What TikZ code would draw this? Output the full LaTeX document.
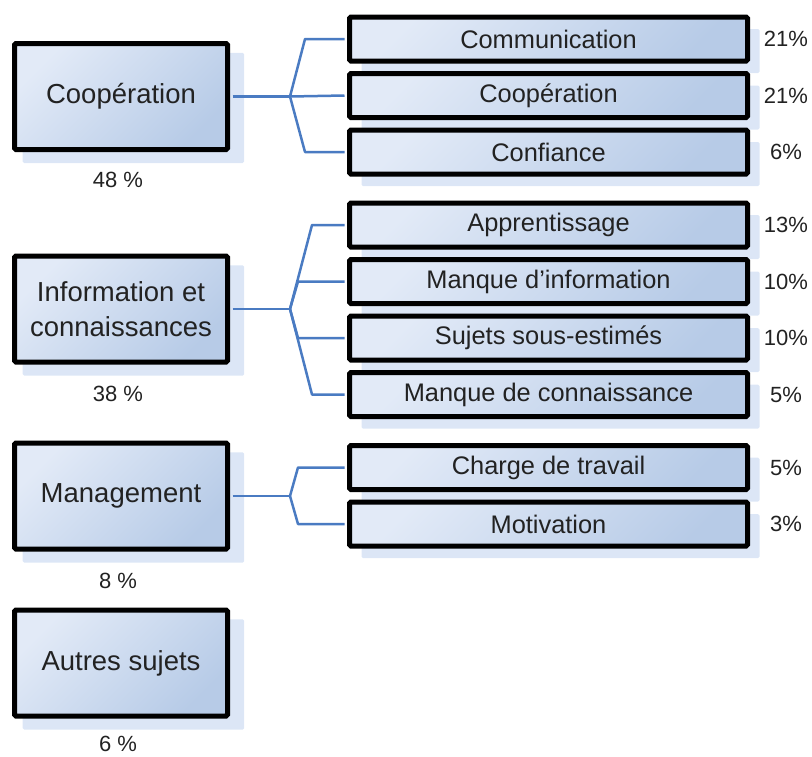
\documentclass[tikz,border=0pt]{standalone}
\usepackage{fontspec}
\setmainfont{Liberation Sans}
\usetikzlibrary{shadows}
\definecolor{boxlight}{HTML}{E2EAF7}
\definecolor{boxdark}{HTML}{B7CBE7}
\definecolor{shadowblue}{HTML}{DCE6F6}
\definecolor{linkblue}{HTML}{4A7BC2}
\definecolor{txt}{HTML}{222222}
\tikzset{
  base/.style={draw=black, line width=5pt, rounded corners=1.5pt,
    top color=boxlight, bottom color=boxdark, shading angle=45,
    text=txt, inner sep=0pt, align=center},
  bigbox/.style={base, minimum width=213pt, minimum height=106pt,
    font=\fontsize{27.5}{35}\selectfont,
    general shadow={fill=shadowblue, shadow xshift=12pt, shadow yshift=-11pt, shadow scale=1.04}},
  smallbox/.style={base, minimum width=398pt, minimum height=44pt,
    font=\fontsize{25.4}{30}\selectfont,
    general shadow={fill=shadowblue, shadow xshift=12pt, shadow yshift=-12pt}},
  pct/.style={font=\fontsize{22}{26}\selectfont, text=txt, inner sep=0pt},
  link/.style={draw=linkblue, line width=2.5pt, line join=round},
}
\begin{document}
\begin{tikzpicture}[x=1pt, y=-1pt]
\useasboundingbox (0,0) rectangle (812,756);

% parent boxes
\node[bigbox] (p1) at (121,96.5) {Coopération};
\node[pct] (p1pct) at (118,180) {48 \%};
\node[bigbox] (p2) at (121,309) {Information et\\connaissances};
\node[pct] (p2pct) at (118,394) {38 \%};
\node[bigbox] (p3) at (121,496) {Management};
\node[pct] (p3pct) at (118,580.5) {8 \%};
\node[bigbox] (p4) at (121,663) {Autres sujets};
\node[pct] (p4pct) at (118,744) {6 \%};

% child boxes
\node[smallbox] (c11) at (548.5,39) {Communication};
\node[smallbox] (c12) at (548.5,95.5) {Coopération};
\node[smallbox] (c13) at (548.5,152) {Confiance};
\node[smallbox] (c21) at (548.5,225) {Apprentissage};
\node[smallbox] (c22) at (548.5,281.5) {Manque d’information};
\node[smallbox] (c23) at (548.5,338) {Sujets sous-estimés};
\node[smallbox] (c24) at (548.5,394.5) {Manque de connaissance};
\node[smallbox] (c31) at (548.5,467.5) {Charge de travail};
\node[smallbox] (c32) at (548.5,524) {Motivation};

% child percentages
\node[pct] (q11) at (786,39) {21\%};
\node[pct] (q12) at (786,95.5) {21\%};
\node[pct] (q13) at (786,152) {6\%};
\node[pct] (q21) at (786,225) {13\%};
\node[pct] (q22) at (786,281.5) {10\%};
\node[pct] (q23) at (786,338) {10\%};
\node[pct] (q24) at (786,394.5) {5\%};
\node[pct] (q31) at (786,467.5) {5\%};
\node[pct] (q32) at (786,524) {3\%};

% junctions
\coordinate (j1) at (290,96.5);
\coordinate (j2) at (290,309);
\coordinate (j3) at (290,496);

% connectors
\draw[link] ([xshift=2.5pt]p1.east) -- (j1);
\draw[link] (j1) -- (305,39) -- ([xshift=-2.5pt]c11.west);
\draw[link] (j1) -- ([xshift=-2.5pt]c12.west);
\draw[link] (j1) -- (305,152) -- ([xshift=-2.5pt]c13.west);

\draw[link] ([xshift=2.5pt]p2.east) -- (j2);
\draw[link] (j2) -- (312,225) -- ([xshift=-2.5pt]c21.west);
\draw[link] (j2) -- (298,281.5) -- ([xshift=-2.5pt]c22.west);
\draw[link] (j2) -- (298,338) -- ([xshift=-2.5pt]c23.west);
\draw[link] (j2) -- (312,394.5) -- ([xshift=-2.5pt]c24.west);

\draw[link] ([xshift=2.5pt]p3.east) -- (j3);
\draw[link] (j3) -- (298,467.5) -- ([xshift=-2.5pt]c31.west);
\draw[link] (j3) -- (298,524) -- ([xshift=-2.5pt]c32.west);
\end{tikzpicture}
\end{document}
